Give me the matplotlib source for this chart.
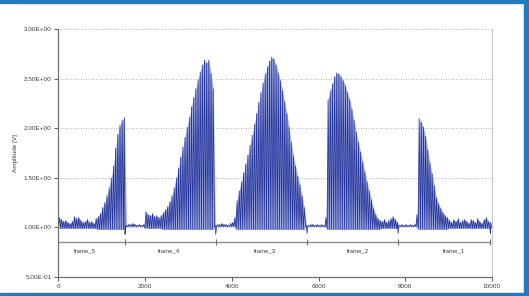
# Amplitude trace with frame markers
import numpy as np
import matplotlib.pyplot as plt
from matplotlib.patches import Rectangle

# ============================================
# region 1. Data (peak of each oscillation)
spike_step = 50  # x units between two oscillations

noise_start = [1.10, 1.08, 1.06, 1.07, 1.05, 1.04, 1.06, 1.11, 1.09, 1.10,
               1.07, 1.05, 1.06, 1.08, 1.05, 1.06, 1.04, 1.09]
burst_5 = [1.11, 1.14, 1.20, 1.25, 1.32, 1.40, 1.50, 1.62, 1.80, 1.94,
           2.03, 2.08, 2.11]
flat_5 = [1.02, 1.03, 1.03, 1.04, 1.03, 1.02, 1.03, 1.02, 1.03]
ripple_4 = [1.16, 1.13, 1.12, 1.14, 1.11, 1.12, 1.10, 1.12]
burst_4 = [1.15, 1.18, 1.21, 1.26, 1.32, 1.40, 1.50, 1.60, 1.71, 1.81,
           1.91, 2.01, 2.11, 2.22, 2.31, 2.40, 2.49, 2.57, 2.64, 2.69,
           2.66, 2.69, 2.55, 2.40]
flat_4 = [1.02, 1.03, 1.03, 1.04, 1.03, 1.03, 1.02, 1.04, 1.05, 1.10]
burst_3 = [1.27, 1.37, 1.46, 1.55, 1.64, 1.73, 1.83, 1.93, 2.04, 2.15,
           2.26, 2.36, 2.46, 2.55, 2.62, 2.68, 2.72, 2.70, 2.64, 2.56,
           2.48, 2.38, 2.27, 2.15, 2.01, 1.86, 1.72, 1.62, 1.52, 1.43,
           1.32, 1.20]
flat_3 = [1.02, 1.02, 1.03, 1.03, 1.02, 1.03, 1.02, 1.03, 1.02, 1.10]
burst_2 = [2.29, 2.38, 2.45, 2.52, 2.56, 2.55, 2.52, 2.48, 2.43, 2.36,
           2.29, 2.19, 2.08, 1.96, 1.86, 1.76, 1.66, 1.56, 1.46, 1.37,
           1.28, 1.19, 1.13, 1.09, 1.07]
tail_2 = [1.06, 1.08, 1.05, 1.07, 1.09, 1.11, 1.08, 1.05]
flat_2 = [1.02, 1.03, 1.02, 1.03, 1.02, 1.03, 1.02, 1.03, 1.13]
burst_1 = [2.10, 2.06, 2.01, 1.92, 1.78, 1.65, 1.54, 1.42, 1.30, 1.24,
           1.19, 1.15, 1.12, 1.10]
noise_end = [1.07, 1.05, 1.08, 1.06, 1.09, 1.05, 1.07, 1.08, 1.06, 1.04,
             1.08, 1.07, 1.05, 1.09, 1.06, 1.04, 1.08, 1.10, 1.06, 1.05]

segments = [noise_start, burst_5, flat_5, ripple_4, burst_4, flat_4, burst_3,
            flat_3, burst_2, tail_2, flat_2, burst_1, noise_end]
trough_levels = [0.99, 0.98, 1.01, 0.99, 0.98, 1.01, 0.98,
                 1.01, 0.98, 0.99, 1.01, 0.98, 0.99]

# frame boundaries (dips in the signal) and labels
frame_edges = [1536, 3629, 5735, 7834, 9965]
dip_values = [0.93, 0.93, 0.94, 0.94, 0.94]
frame_names = ['frame_5', 'frame_4', 'frame_3', 'frame_2', 'frame_1']
frame_label_x = [614, 2550, 4766, 6912, 9125]
frame_line_y = 0.856
frame_label_y = 0.765
# endregion


# ============================================
# region 2. Build trace
peaks = np.concatenate(segments)
troughs = np.concatenate([np.full(len(s), lv) for s, lv in zip(segments, trough_levels)])
n = len(peaks)
x_tr = np.arange(n) * spike_step
x_pk = x_tr + 20
x = np.empty(2 * n)
y = np.empty(2 * n)
x[0::2] = x_tr
x[1::2] = x_pk
y[0::2] = troughs
y[1::2] = peaks
x = np.append(x, 10000)
y = np.append(y, troughs[-1])

x = np.concatenate([x, frame_edges])
y = np.concatenate([y, dip_values])
order = np.argsort(x, kind='stable')
x = x[order]
y = y[order]
# endregion


# ============================================
# region 3. Plot
plt.rcParams['font.family'] = ['Liberation Sans', 'DejaVu Sans']

fig = plt.figure(figsize=(5.29, 2.96), dpi=100)
ax = fig.add_axes([0.1104, 0.0642, 0.930 - 0.1104, 0.901 - 0.0642])

# light fill under the oscillation envelope, then the trace itself
ax.fill_between(x_pk, troughs, peaks, color='#8896d8', alpha=0.8, linewidth=0, zorder=1)
ax.plot(x, y, color='#24339a', linewidth=0.55, zorder=2)

# frame annotation
ax.plot([0, frame_edges[-1]], [frame_line_y, frame_line_y], color='#8c8c8c', linewidth=1.0)
ax.vlines(frame_edges, frame_line_y - 0.035, frame_line_y + 0.03, color='#6e6e6e', linewidth=0.8)
for name, fx in zip(frame_names, frame_label_x):
    ax.text(fx, frame_label_y, name, fontsize=4.3, color='#404040',
            ha='center', va='center')

ax.set_xlim(0, 10000)
ax.set_ylim(0.5, 3.0)
ax.set_xticks([0, 2000, 4000, 6000, 8000, 10000])
yt = [0.5, 1.0, 1.5, 2.0, 2.5, 3.0]
ax.set_yticks(yt)
ax.set_yticklabels(['{:.2E}'.format(v) for v in yt])
ax.tick_params(labelsize=4.6, colors='#404040', length=3, width=0.6, pad=2)

for v in yt[1:]:
    ax.axhline(v, color='#a0a0a0', linestyle=(0, (1, 2)), linewidth=0.6, zorder=0)

for side in ['left', 'bottom']:
    ax.spines[side].set_color('#707070')
    ax.spines[side].set_linewidth(0.9)
ax.spines['top'].set_visible(False)
ax.spines['right'].set_color('#c8c8c8')
ax.spines['right'].set_linewidth(0.8)

ax.set_ylabel('Amplitude [V]', fontsize=4.6, color='#404040', labelpad=4)

# blue frame around the picture
blue = '#1e7bc4'
fig.patches.append(Rectangle((0, 1 - 3 / 296), 1, 3 / 296, transform=fig.transFigure,
                             color=blue, zorder=-1))
fig.patches.append(Rectangle((0, 0), 1, 3 / 296, transform=fig.transFigure,
                             color=blue, zorder=-1))
fig.patches.append(Rectangle((1 - 5 / 529, 0), 5 / 529, 1, transform=fig.transFigure,
                             color=blue, zorder=-1))

fig.savefig('out.png', dpi=100)
# endregion
